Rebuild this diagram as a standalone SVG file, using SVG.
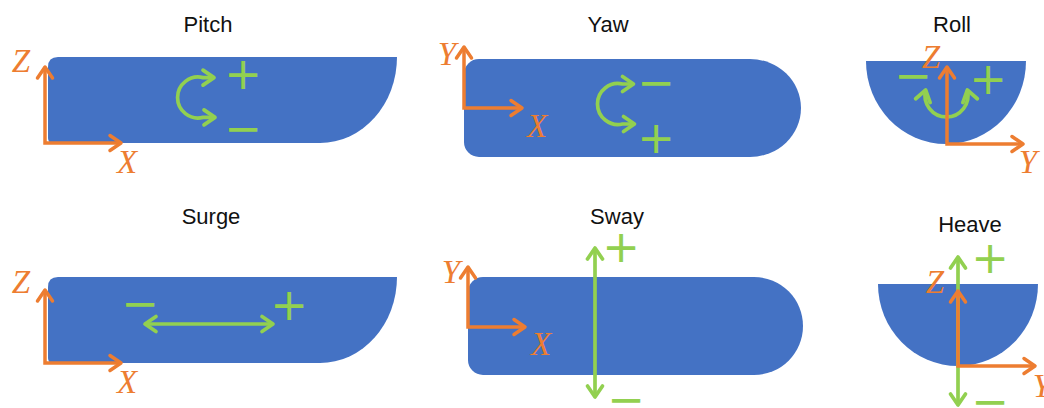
<svg xmlns="http://www.w3.org/2000/svg" width="1044" height="408" viewBox="0 0 1044 408">
<style>
.hull{fill:#4472C4}
.title{font-family:"Liberation Sans",Arial,sans-serif;font-size:22px;fill:#111;text-anchor:middle}
.ax{font-family:"Liberation Serif","DejaVu Serif",serif;font-style:italic;font-size:33px;fill:#ED7D31;text-anchor:middle}
.pm{font-family:"DejaVu Sans",sans-serif;font-size:45px;fill:#92D050;text-anchor:middle}
.oa{fill:none;stroke:#ED7D31;stroke-width:3.5;stroke-linejoin:miter;marker-start:url(#mo);marker-end:url(#mo)}
.ga{fill:none;stroke:#92D050;stroke-width:3.7;marker-start:url(#mg);marker-end:url(#mg)}
</style>
<defs>
<marker id="mo" markerUnits="userSpaceOnUse" markerWidth="30" markerHeight="30" viewBox="-15 -15 30 30" refX="0" refY="0" orient="auto-start-reverse">
<path d="M-11,-7.5 L0,0 L-11,7.5" fill="none" stroke="#ED7D31" stroke-width="3.5" stroke-linecap="round" stroke-linejoin="round"/>
</marker>
<marker id="mg" markerUnits="userSpaceOnUse" markerWidth="30" markerHeight="30" viewBox="-15 -15 30 30" refX="0" refY="0" orient="auto-start-reverse">
<path d="M-11,-7.5 L0,0 L-11,7.5" fill="none" stroke="#92D050" stroke-width="3.7" stroke-linecap="round" stroke-linejoin="round"/>
</marker>
</defs>

<g id="pitch">
<text class="title" x="208" y="32">Pitch</text>
<path class="hull" d="M58,57 L397,57 A77 86 0 0 1 320,143 L53,143 Q48,143 48,138 L48,67 Q48,57 58,57 Z"/>
<path class="ga" d="M215,117.4 L203,117.4 A20.5 20.5 0 1 1 203,77.6 L214,77.6"/>
<text class="pm" x="243" y="88.6">+</text>
<text class="pm" x="243" y="143.6">−</text>
<path class="oa" d="M45,67 L45,143 L121,143"/>
<text class="ax" x="21" y="72">Z</text>
<text class="ax" x="127" y="173">X</text>
</g>

<g id="yaw">
<text class="title" x="608" y="32">Yaw</text>
<path class="hull" d="M479,59 L750,59 A51 49 0 0 1 750,157 L479,157 A15 15 0 0 1 464,142 L464,74 A15 15 0 0 1 479,59 Z"/>
<path class="ga" d="M634.5,124 L622.5,124 A20.5 20.5 0 1 1 622.5,84 L633.5,84"/>
<text class="pm" x="656" y="97.6">−</text>
<text class="pm" x="656" y="152.6">+</text>
<path class="oa" d="M464,47 L464,108 L522,108"/>
<text class="ax" x="447" y="65">Y</text>
<text class="ax" x="537" y="137">X</text>
</g>

<g id="roll">
<text class="title" x="952" y="32">Roll</text>
<path class="hull" d="M866,61 H1026 A80 83 0 0 1 866,61 Z"/>
<path class="ga" d="M925.7,90 A21.5 21.5 0 1 0 967.3,90"/>
<text class="pm" x="913" y="90.6">−</text>
<text class="pm" x="988" y="93.6">+</text>
<path class="oa" d="M947,67 L947,144 L1023,144"/>
<text class="ax" x="931" y="68">Z</text>
<text class="ax" x="1028" y="173">Y</text>
</g>

<g id="surge">
<text class="title" x="211" y="224">Surge</text>
<path class="hull" d="M58,277 L397,277 A77 86 0 0 1 320,363 L53,363 Q48,363 48,358 L48,287 Q48,277 58,277 Z"/>
<path class="ga" d="M145,324 L273,324"/>
<text class="pm" x="140" y="318.6">−</text>
<text class="pm" x="289" y="319.6">+</text>
<path class="oa" d="M45,290 L45,363 L121,363"/>
<text class="ax" x="21" y="293">Z</text>
<text class="ax" x="127" y="393">X</text>
</g>

<g id="sway">
<text class="title" x="617" y="224">Sway</text>
<path class="hull" d="M483,277 L754,277 A49 49 0 0 1 754,375 L483,375 A15 15 0 0 1 468,360 L468,292 A15 15 0 0 1 483,277 Z"/>
<path class="ga" d="M595,248 L595,397"/>
<text class="pm" x="621" y="261.6">+</text>
<text class="pm" x="626" y="414.6">−</text>
<path class="oa" d="M468,267 L468,327 L525,327"/>
<text class="ax" x="451" y="283">Y</text>
<text class="ax" x="541" y="355">X</text>
</g>

<g id="heave">
<text class="title" x="970" y="232">Heave</text>
<path class="hull" d="M878,284 H1038 A80 82 0 0 1 878,284 Z"/>
<path class="ga" d="M958,257 L958,405"/>
<text class="pm" x="990" y="272.6">+</text>
<text class="pm" x="990" y="416.6">−</text>
<path class="oa" d="M958,291 L958,366 L1035,366"/>
<text class="ax" x="935" y="293">Z</text>
<text class="ax" x="1042" y="397">Y</text>
</g>
</svg>
